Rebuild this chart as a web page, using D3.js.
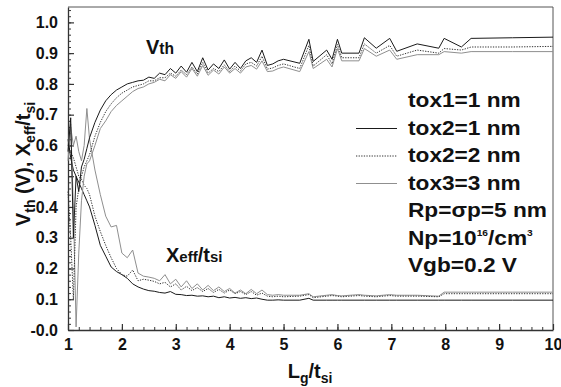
<!DOCTYPE html>
<html>
<head>
<meta charset="utf-8">
<script src="https://cdn.jsdelivr.net/npm/d3@7"></script>
<style>
  body { margin: 0; background: #fff; }
  svg { display: block; }
  text { font-family: "Liberation Sans", Arial, sans-serif; font-weight: bold; fill: #111; }
</style>
</head>
<body>
<svg id="chart" width="561" height="387"></svg>
<script>
// Lg/tsi sample points
const lg = [1.0, 1.05, 1.1, 1.15, 1.2, 1.25, 1.3, 1.35,
  1.4, 1.5, 1.6, 1.7, 1.8, 1.9, 2.0, 2.1, 2.2, 2.3, 2.4, 2.5, 2.6, 2.7, 2.8, 2.9, 3.0,
  3.1, 3.2, 3.3, 3.4, 3.5, 3.6, 3.7, 3.8, 3.9, 4.0, 4.1, 4.2, 4.3, 4.4, 4.5, 4.6, 4.7, 4.8, 4.9, 5.0,
  5.3, 5.47, 5.55, 5.8, 5.9, 6.0, 6.08, 6.4, 6.5, 6.72, 6.97, 7.1, 7.48, 7.88, 7.98, 8.3, 8.48, 9.25, 10.0];

// Vth (V)
const vthTox1 = [0.58, 0.69, 0.30, 0.50, 0.45, 0.53, 0.555, 0.59,
  0.625, 0.675, 0.715, 0.745, 0.765, 0.78, 0.79, 0.80, 0.805, 0.81, 0.812, 0.822, 0.818, 0.835, 0.83, 0.85, 0.835,
  0.858, 0.838, 0.87, 0.84, 0.885, 0.845, 0.865, 0.85, 0.878, 0.848, 0.87, 0.85, 0.875, 0.885, 0.87, 0.91, 0.86, 0.865, 0.875, 0.88,
  0.867, 0.945, 0.873, 0.91, 0.88, 0.945, 0.90, 0.90, 0.95, 0.916, 0.948, 0.906, 0.93, 0.916, 0.948, 0.92, 0.948, 0.95, 0.952];
const vthTox2 = [0.45, 0.30, 0.10, 0.40, 0.46, 0.50, 0.53, 0.55,
  0.57, 0.63, 0.675, 0.71, 0.735, 0.755, 0.77, 0.78, 0.79, 0.795, 0.80, 0.81, 0.81, 0.82, 0.82, 0.835, 0.825,
  0.845, 0.83, 0.855, 0.832, 0.87, 0.835, 0.85, 0.84, 0.862, 0.84, 0.858, 0.842, 0.865, 0.87, 0.858, 0.89, 0.848, 0.852, 0.86, 0.865,
  0.85, 0.925, 0.858, 0.895, 0.865, 0.928, 0.885, 0.885, 0.93, 0.90, 0.925, 0.89, 0.91, 0.90, 0.915, 0.91, 0.92, 0.92, 0.922];
const vthTox3 = [0.60, 0.67, 0.40, 0.01, 0.25, 0.42, 0.50, 0.54,
  0.55, 0.60, 0.655, 0.68, 0.71, 0.73, 0.745, 0.76, 0.775, 0.785, 0.79, 0.80, 0.805, 0.815, 0.81, 0.83, 0.818,
  0.84, 0.822, 0.85, 0.825, 0.86, 0.828, 0.845, 0.832, 0.855, 0.835, 0.85, 0.835, 0.855, 0.86, 0.848, 0.875, 0.84, 0.842, 0.85, 0.855,
  0.84, 0.905, 0.85, 0.88, 0.855, 0.915, 0.875, 0.875, 0.915, 0.89, 0.91, 0.88, 0.895, 0.895, 0.905, 0.90, 0.905, 0.905, 0.905];

// Xeff/tsi
const xeffTox1 = [0.62, 0.56, 0.52, 0.50, 0.48, 0.46, 0.44, 0.42,
  0.40, 0.34, 0.275, 0.24, 0.205, 0.19, 0.18, 0.168, 0.15, 0.14, 0.133, 0.128, 0.126, 0.122, 0.12, 0.125, 0.116,
  0.115, 0.112, 0.113, 0.11, 0.111, 0.108, 0.11, 0.105, 0.108, 0.104, 0.106, 0.103, 0.105, 0.102, 0.104, 0.10, 0.097, 0.097, 0.098, 0.097,
  0.097, 0.103, 0.097, 0.097, 0.097, 0.097, 0.097, 0.097, 0.097, 0.097, 0.097, 0.097, 0.097, 0.097, 0.097, 0.097, 0.097, 0.097, 0.097];
const xeffTox2 = [0.60, 0.58, 0.56, 0.53, 0.50, 0.49, 0.47, 0.46,
  0.44, 0.37, 0.32, 0.275, 0.235, 0.20, 0.18, 0.175, 0.195, 0.16, 0.165, 0.162, 0.158, 0.15, 0.155, 0.14, 0.15,
  0.13, 0.142, 0.128, 0.138, 0.125, 0.135, 0.122, 0.132, 0.12, 0.13, 0.118, 0.125, 0.115, 0.125, 0.113, 0.12, 0.11, 0.108, 0.11, 0.108,
  0.11, 0.115, 0.105, 0.11, 0.112, 0.11, 0.108, 0.112, 0.11, 0.108, 0.112, 0.11, 0.11, 0.108, 0.118, 0.118, 0.118, 0.118, 0.118];
const xeffTox3 = [0.55, 0.66, 0.60, 0.63, 0.58, 0.55, 0.60, 0.72,
  0.62, 0.52, 0.44, 0.37, 0.335, 0.34, 0.25, 0.235, 0.26, 0.185, 0.175, 0.172, 0.168, 0.16, 0.18, 0.15, 0.165,
  0.14, 0.16, 0.135, 0.15, 0.13, 0.145, 0.128, 0.14, 0.125, 0.135, 0.12, 0.13, 0.118, 0.132, 0.118, 0.13, 0.115, 0.113, 0.115, 0.113,
  0.113, 0.118, 0.108, 0.113, 0.115, 0.112, 0.111, 0.115, 0.113, 0.111, 0.115, 0.113, 0.113, 0.11, 0.123, 0.123, 0.123, 0.123, 0.123];

// axis ticks
const xTicks = [1, 2, 3, 4, 5, 6, 7, 8, 9, 10];
const yTicks = [0, 0.1, 0.2, 0.3, 0.4, 0.5, 0.6, 0.7, 0.8, 0.9, 1.0];
const yTickLabels = ["-0.0", "0.1", "0.2", "0.3", "0.4", "0.5", "0.6", "0.7", "0.8", "0.9", "1.0"];

const legendLabels = ["tox2=1 nm", "tox2=2 nm", "tox3=3 nm"];

const svg = d3.select("#chart");
const plot = { left: 68, right: 553, top: 7, bottom: 330 };

const x = d3.scaleLinear().domain([1, 10]).range([plot.left, plot.right]);
const y = d3.scaleLinear().domain([0, 1.05]).range([plot.bottom, plot.top]);

const styles = [
  { stroke: "#1a1a1a", width: 1, dash: null },
  { stroke: "#333", width: 1, dash: "1.3,1.3" },
  { stroke: "#8f8f8f", width: 1, dash: null }
];

// text with sub/superscripts: parts = [text, kind, scale]
function rich(sel, parts, size) {
  let shift = 0;
  parts.forEach(([t, kind, scale]) => {
    const fs = kind === "n" ? size : size * (scale || 0.7);
    const target = kind === "sub" ? size * 0.25 : kind === "sup" ? -size * 0.42 : 0;
    sel.append("tspan")
      .attr("dy", target - shift)
      .style("font-size", fs + "px")
      .text(t);
    shift = target;
  });
  return sel;
}

// legend-style text, a bit wider than the plain font
function wideText(xx, yy, size) {
  return svg.append("text")
    .attr("transform", `translate(${xx},${yy}) scale(1.08,1)`)
    .style("font-size", size + "px");
}

// frame (top and right)
svg.append("path")
  .attr("d", `M${plot.left},${plot.top}H${plot.right}V${plot.bottom}`)
  .attr("fill", "none")
  .attr("stroke", "#555")
  .attr("stroke-width", 1);

// minor ticks
svg.append("g")
  .attr("transform", `translate(0,${plot.bottom})`)
  .call(d3.axisBottom(x).tickValues(d3.range(1, 10.01, 0.2)).tickSizeInner(-3).tickSizeOuter(0).tickFormat(""))
  .call(g => g.select(".domain").remove())
  .selectAll("line").attr("stroke", "#333");

svg.append("g")
  .attr("transform", `translate(${plot.left},0)`)
  .call(d3.axisLeft(y).tickValues(d3.range(0, 1.041, 0.02)).tickSizeInner(-3).tickSizeOuter(0).tickFormat(""))
  .call(g => g.select(".domain").remove())
  .selectAll("line").attr("stroke", "#333");

// major axes
const xAxis = svg.append("g")
  .attr("transform", `translate(0,${plot.bottom})`)
  .call(d3.axisBottom(x).tickValues(xTicks).tickSizeInner(-6).tickSizeOuter(0).tickPadding(9).tickFormat(d3.format("d")));
xAxis.select(".domain").attr("stroke", "#333").attr("stroke-width", 1.3);
xAxis.selectAll("line").attr("stroke", "#333").attr("stroke-width", 1.2);
xAxis.selectAll("text")
  .attr("fill", "#111")
  .style("font-family", "'Liberation Sans', Arial, sans-serif")
  .style("font-weight", "bold")
  .style("font-size", "16px");

const yAxis = svg.append("g")
  .attr("transform", `translate(${plot.left},0)`)
  .call(d3.axisLeft(y).tickValues(yTicks).tickSizeInner(-6).tickSizeOuter(0).tickPadding(10)
    .tickFormat((d, i) => yTickLabels[i]));
yAxis.select(".domain").attr("stroke", "#333").attr("stroke-width", 1.3);
yAxis.selectAll("line").attr("stroke", "#333").attr("stroke-width", 1.2);
yAxis.selectAll("text")
  .attr("fill", "#111")
  .style("font-family", "'Liberation Sans', Arial, sans-serif")
  .style("font-weight", "bold")
  .style("font-size", "16px");

// curves
const line = d3.line().x(d => x(d[0])).y(d => y(d[1]));
const curves = [
  [vthTox1, 0], [vthTox2, 1], [vthTox3, 2],
  [xeffTox1, 0], [xeffTox2, 1], [xeffTox3, 2]
];
const curveG = svg.append("g");
curves.slice().reverse().forEach(([vals, s]) => {
  const st = styles[s];
  curveG.append("path")
    .datum(lg.map((l, i) => [l, vals[i]]))
    .attr("d", line)
    .attr("fill", "none")
    .attr("stroke", st.stroke)
    .attr("stroke-width", st.width)
    .attr("stroke-dasharray", st.dash)
    .attr("stroke-linejoin", "miter");
});

// curve annotations
rich(svg.append("text").attr("x", 146).attr("y", 54), [["V", "n"], ["th", "small", 0.78]], 20);
rich(svg.append("text").attr("x", 166).attr("y", 262), [["X", "n"], ["eff", "small", 0.75], ["/t", "n"], ["si", "small", 0.75]], 20);

// legend
const legX = 408, legY0 = 107, legStep = 27.5;
wideText(legX, legY0, 21).text("tox1=1 nm");
legendLabels.forEach((lab, i) => {
  const yy = legY0 + legStep * (i + 1);
  const st = styles[i];
  svg.append("line")
    .attr("x1", 356).attr("x2", 397)
    .attr("y1", yy - 6).attr("y2", yy - 6)
    .attr("stroke", st.stroke)
    .attr("stroke-width", st.width)
    .attr("stroke-dasharray", st.dash);
  wideText(legX, yy, 21).text(lab);
});
wideText(legX, legY0 + legStep * 4, 21).text("Rp=σp=5 nm");
rich(wideText(legX, legY0 + legStep * 5, 21),
  [["Np=10", "n"], ["16", "sup", 0.45], ["/cm", "n"], ["3", "sup", 0.45]], 21);
wideText(legX, legY0 + legStep * 6, 21).text("Vgb=0.2 V");

// axis titles
rich(svg.append("text").attr("x", 310).attr("y", 378).attr("text-anchor", "middle"),
  [["L", "n"], ["g", "sub"], ["/t", "n"], ["si", "sub"]], 20);
rich(svg.append("text").attr("transform", "translate(30,164) rotate(-90)").attr("text-anchor", "middle"),
  [["V", "n"], ["th", "sub"], [" (V), X", "n"], ["eff", "sub"], ["/t", "n"], ["si", "sub"]], 20);
</script>
</body>
</html>
